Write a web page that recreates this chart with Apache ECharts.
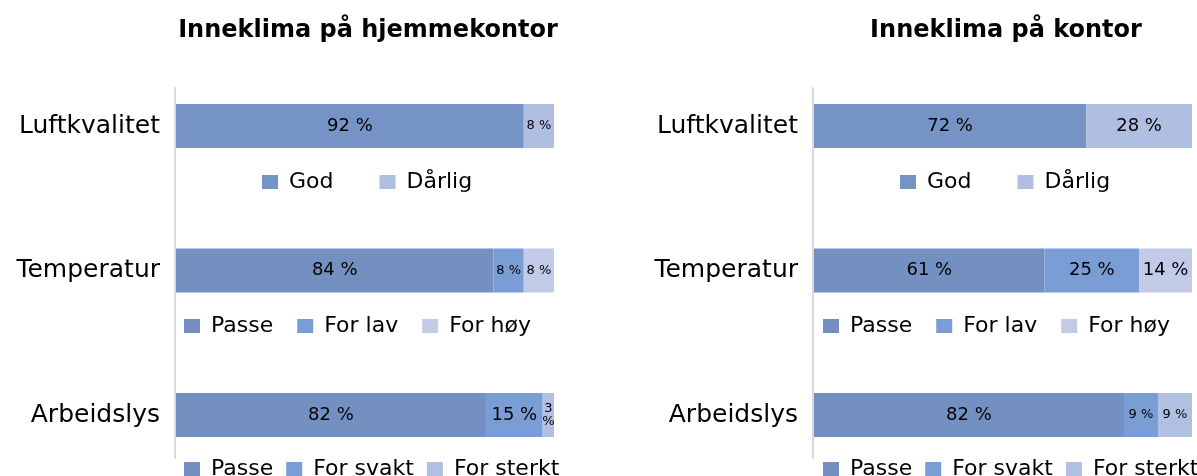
<!DOCTYPE html>
<html>
<head>
<meta charset="utf-8">
<script src="https://cdn.jsdelivr.net/npm/echarts@6/dist/echarts.min.js"></script>
<style>
html,body{margin:0;padding:0;background:#fff;}
#chart{width:1197px;height:476px;}
</style>
</head>
<body>
<div id="chart"></div>
<script>
const categories = ['Luftkvalitet', 'Temperatur', 'Arbeidslys'];
const panelTitles = ['Inneklima på hjemmekontor', 'Inneklima på kontor'];
const luftNames = ['God', 'Dårlig'];
const tempNames = ['Passe', 'For lav', 'For høy'];
const lysNames = ['Passe', 'For svakt', 'For sterkt'];
const homeLuft = [92, 8];
const homeTemp = [84, 8, 8];
const homeLys = [82, 15, 3];
const officeLuft = [72, 28];
const officeTemp = [61, 25, 14];
const officeLys = [82, 9, 9];

const colors = {
  'God': '#7593c4', 'Dårlig': '#b0bfe1',
  'Passe': '#7390c0', 'For lav': '#7b9dd5', 'For høy': '#c1cae7',
  'For svakt': '#7b9dd5', 'For sterkt': '#b1c0e2'
};
const FONT = 'DejaVu Sans';

const panels = [
  { rows: [[luftNames, homeLuft], [tempNames, homeTemp], [lysNames, homeLys]], left: 176, titleX: 363 },
  { rows: [[luftNames, officeLuft], [tempNames, officeTemp], [lysNames, officeLys]], left: 814, titleX: 1001 }
];
const barWidthPx = 378;

const grids = [], xAxes = [], yAxes = [], series = [], legends = [], titles = [];
const legendTops = [171, 315, 458];
const legendLefts = [[262, 184, 184], [900, 823, 823]];
const legendGaps = [46, 24, 13];

panels.forEach((p, pi) => {
  grids.push({ left: p.left, width: barWidthPx, top: 126, height: 289, containLabel: false });
  xAxes.push({ gridIndex: pi, type: 'value', min: 0, max: 100, show: false });
  yAxes.push({
    gridIndex: pi, type: 'category', inverse: true, data: categories, boundaryGap: false,
    axisLine: { show: false }, axisTick: { show: false }, splitLine: { show: false },
    axisLabel: { fontSize: 25, color: '#000', fontFamily: FONT, margin: 16 }
  });
  titles.push({
    text: panelTitles[pi], left: p.titleX, top: 14, textAlign: 'center',
    textStyle: { fontFamily: FONT, fontWeight: 'bold', fontSize: 24, color: '#000' }
  });
  p.rows.forEach((row, ri) => {
    const names = row[0], vals = row[1];
    names.forEach((n, si) => {
      const data = categories.map((c, ci) => ci === ri ? vals[si] : '-');
      series.push({
        type: 'bar', name: n, xAxisIndex: pi, yAxisIndex: pi,
        stack: 'panel' + pi, barWidth: 44, clip: false,
        itemStyle: { color: colors[n] },
        data: data,
        label: {
          show: true, position: 'inside', color: '#000', fontFamily: FONT,
          fontSize: vals[si] < 10 ? 13 : 18, lineHeight: vals[si] < 5 ? 13 : 20,
          formatter: (prm) => prm.value < 5 ? prm.value + '\n%' : prm.value + ' %'
        }
      });
    });
    legends.push({
      data: names, left: legendLefts[pi][ri], top: legendTops[ri], orient: 'horizontal',
      width: 500,
      itemWidth: 16, itemHeight: 14, itemGap: legendGaps[ri], padding: 0, selectedMode: false,
      icon: 'rect',
      textStyle: { fontFamily: FONT, fontSize: 22, color: '#000', padding: [0, 0, 0, 6] }
    });
  });
});

panels.forEach((p, pi) => {
  const gi = grids.length;
  grids.push({ left: p.left - 1, width: barWidthPx, top: 88, height: 370 });
  xAxes.push({ gridIndex: gi, type: 'value', show: false, min: 0, max: 1 });
  yAxes.push({
    gridIndex: gi, type: 'value', min: 0, max: 1,
    axisLine: { show: true, lineStyle: { color: '#d9d9d9', width: 2 } },
    axisTick: { show: false }, axisLabel: { show: false }, splitLine: { show: false }
  });
});

const chart = echarts.init(document.getElementById('chart'));
chart.setOption({
  animation: false,
  backgroundColor: '#fff',
  title: titles,
  legend: legends,
  grid: grids,
  xAxis: xAxes,
  yAxis: yAxes,
  series: series
});
</script>
</body>
</html>
